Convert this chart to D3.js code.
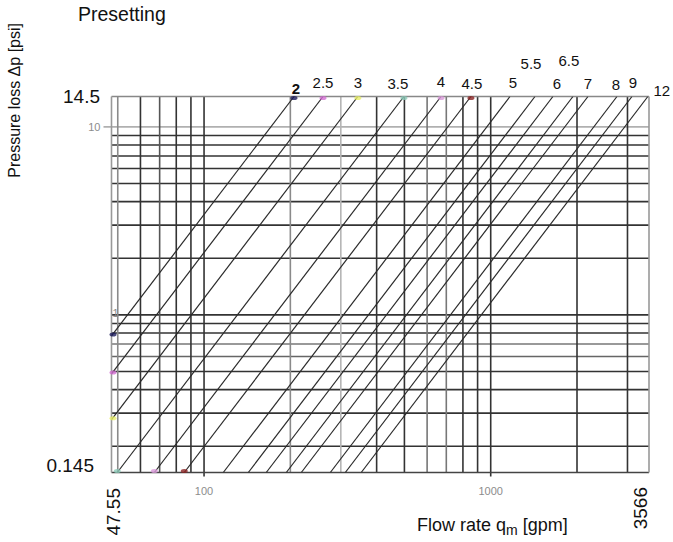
<!DOCTYPE html>
<html>
<head>
<meta charset="utf-8">
<script src="https://cdn.jsdelivr.net/npm/d3@7"></script>
<style>
  body { margin: 0; background: #fff; }
  svg { display: block; font-family: Arial, 'Liberation Sans', sans-serif; }
  .grid { fill: none; stroke-width: 1.6; }
  .curve { stroke: #2a2a2a; stroke-width: 1.2; fill: none; }
</style>
</head>
<body>
<div id="chart"></div>
<script>
// presetting curves, flow (gpm) where each curve meets 14.5 psi
const presettings = ['2', '2.5', '3', '3.5', '4', '4.5', '5', '5.5', '6', '6.5', '7', '8', '9', '12']
const flowAtMax = [206, 260, 344, 498, 671, 853, 1167, 1427, 1648, 1936, 2184, 2757, 3110, 3534]

const flowRange = [47.55, 3566]
const lossRange = [0.145, 14.5]

// grid of the original log paper
const flowGrid = [50, 60, 70, 80, 90, 100, 200, 300, 400, 500, 600, 700, 800, 900, 1000, 2000, 3000]
const flowGridTone = ['#8a8a8a', '#333', '#555', '#333', '#333', '#333', '#8a8a8a', '#b5b5b5', '#333',
  '#333', '#777', '#777', '#333', '#333', '#333', '#333', '#333']
const lossGrid = [0.2, 0.3, 0.4, 0.5, 0.6, 0.7, 0.8, 0.9, 1, 2, 3, 4, 5, 6, 7, 8, 9, 10]
const lossGridTone = ['#333', '#333', '#333', '#333', '#666', '#777', '#333', '#333', '#333',
  '#333', '#333', '#333', '#333', '#333', '#333', '#333', '#333', '#b0b0b0']

// colour blots left at the curve ends in the scan
const endColors = ['#1c1c5c', '#d36fd3', '#e9ef6a', '#8cc9b8', '#d99ad9', '#8b2424']

const W = 673
const H = 542

let svg = d3.select('#chart').append('svg')
  .attr('width', W)
  .attr('height', H)

let x = d3.scaleLog().domain(flowRange).range([111.5, 649])
let y = d3.scaleLog().domain(lossRange).range([472.5, 96.5])

svg.append('clipPath').attr('id', 'plot')
  .append('rect')
  .attr('x', x.range()[0]).attr('y', y.range()[1])
  .attr('width', x.range()[1] - x.range()[0])
  .attr('height', y.range()[0] - y.range()[1])

let g = svg.append('g')

// horizontal grid
g.selectAll('.hgrid')
  .data(lossGrid)
  .enter()
  .append('line')
  .attr('class', 'grid hgrid')
  .attr('x1', (d) => d === 10 ? x.range()[0] - 8 : x.range()[0])
  .attr('x2', x.range()[1])
  .attr('y1', (d) => y(d))
  .attr('y2', (d) => y(d))
  .attr('stroke', (d, i) => lossGridTone[i])

// vertical grid
g.selectAll('.vgrid')
  .data(flowGrid)
  .enter()
  .append('line')
  .attr('class', 'grid vgrid')
  .attr('x1', (d) => x(d))
  .attr('x2', (d) => x(d))
  .attr('y1', y.range()[1])
  .attr('y2', (d) => d === 100 || d === 1000 ? y.range()[0] + 4 : y.range()[0])
  .attr('stroke', (d, i) => flowGridTone[i])

// frame
g.append('line').attr('class', 'grid')
  .attr('x1', x.range()[0]).attr('x2', x.range()[1])
  .attr('y1', y.range()[1]).attr('y2', y.range()[1]).attr('stroke', '#888')
g.append('line').attr('class', 'grid')
  .attr('x1', x.range()[0]).attr('x2', x.range()[1])
  .attr('y1', y.range()[0]).attr('y2', y.range()[0]).attr('stroke', '#444')
g.append('line').attr('class', 'grid')
  .attr('x1', x.range()[0]).attr('x2', x.range()[0])
  .attr('y1', y.range()[1]).attr('y2', y.range()[0]).attr('stroke', '#999')
g.append('line').attr('class', 'grid')
  .attr('x1', x.range()[1]).attr('x2', x.range()[1])
  .attr('y1', y.range()[1]).attr('y2', y.range()[0]).attr('stroke', '#999')

// curves: dp ~ q^2, one decade of flow per two decades of loss
let curves = presettings.map((p, i) => {
  let q = flowAtMax[i]
  let top = [q, lossRange[1]]
  let low = q / 10 >= flowRange[0]
    ? [q / 10, lossRange[0]]
    : [flowRange[0], lossRange[1] * Math.pow(flowRange[0] / q, 2)]
  return {p: p, top: top, low: low}
})

g.append('g')
  .attr('clip-path', 'url(#plot)')
  .selectAll('.curve')
  .data(curves)
  .enter()
  .append('line')
  .attr('class', 'curve')
  .attr('x1', (d) => x(d.top[0]))
  .attr('y1', (d) => y(d.top[1]))
  .attr('x2', (d) => x(d.low[0]))
  .attr('y2', (d) => y(d.low[1]))

// coloured end marks
let marks = []
endColors.forEach((c, i) => {
  marks.push({c: c, pt: curves[i].top})
  marks.push({c: c, pt: curves[i].low})
})
g.selectAll('.blot')
  .data(marks)
  .enter()
  .append('ellipse')
  .attr('class', 'blot')
  .attr('cx', (d) => x(d.pt[0]) + (d.pt[0] === flowRange[0] ? 1.5 : 0))
  .attr('cy', (d) => y(d.pt[1]) + (d.pt[1] === lossRange[1] ? 1.5 : -1.5))
  .attr('rx', 3.5)
  .attr('ry', 2)
  .attr('fill', (d) => d.c)
  .attr('opacity', 0.8)

// presetting labels
const labelShift = {
  '2': [2, -8], '2.5': [0, -14], '3': [0, -14], '3.5': [-6, -13], '4': [0, -15], '4.5': [1, -13],
  '5': [3, -14], '5.5': [-4, -33], '6': [4, -13], '6.5': [-4, -36], '7': [0, -13], '8': [-1, -12],
  '9': [1, -14], '12': [14, -6]
}
g.selectAll('.plabel')
  .data(curves)
  .enter()
  .append('text')
  .attr('class', 'plabel')
  .attr('x', (d) => x(d.top[0]) + labelShift[d.p][0])
  .attr('y', (d) => y(d.top[1]) + labelShift[d.p][1] + 5)
  .attr('text-anchor', 'middle')
  .attr('font-size', 15)
  .attr('font-weight', (d) => d.p === '2' ? 'bold' : 'normal')
  .attr('fill', '#111')
  .text((d) => d.p)

// faint labels of the scanned paper
let faint = [
  {t: '10', x: x.range()[0] - 11, y: y(10) + 4, a: 'end'},
  {t: '1', x: x.range()[0] + 4, y: y(1) + 2, a: 'middle'},
  {t: '100', x: x(100), y: y.range()[0] + 22, a: 'middle'},
  {t: '1000', x: x(1000), y: y.range()[0] + 22, a: 'middle'}
]
svg.selectAll('.faint')
  .data(faint)
  .enter()
  .append('text')
  .attr('class', 'faint')
  .attr('x', (d) => d.x)
  .attr('y', (d) => d.y)
  .attr('text-anchor', (d) => d.a)
  .attr('font-size', 11)
  .attr('fill', '#8c8c8c')
  .text((d) => d.t)

// range labels
svg.append('text')
  .attr('x', 100).attr('y', y(lossRange[1]) + 6)
  .attr('text-anchor', 'end').attr('font-size', 19).attr('fill', '#111')
  .text('14.5')
svg.append('text')
  .attr('x', 94).attr('y', y(lossRange[0]) - 1)
  .attr('text-anchor', 'end').attr('font-size', 19).attr('fill', '#111')
  .text('0.145')
svg.append('text')
  .attr('transform', `translate(${x(flowRange[0]) + 8},488) rotate(-90)`)
  .attr('text-anchor', 'end').attr('font-size', 19).attr('fill', '#111')
  .text('47.55')
svg.append('text')
  .attr('transform', `translate(${x(flowRange[1]) - 2},487) rotate(-90)`)
  .attr('text-anchor', 'end').attr('font-size', 19).attr('fill', '#111')
  .text('3566')

// titles
svg.append('text')
  .attr('x', 78).attr('y', 21)
  .attr('font-size', 19.5).attr('fill', '#111')
  .text('Presetting')

svg.append('text')
  .attr('transform', 'translate(20,23) rotate(-90)')
  .attr('text-anchor', 'end').attr('font-size', 16).attr('fill', '#111')
  .text('Pressure loss \u0394p [psi]')

let xt = svg.append('text')
  .attr('x', 417).attr('y', 531)
  .attr('font-size', 18).attr('fill', '#111')
xt.append('tspan').text('Flow rate q')
xt.append('tspan').attr('font-size', 14).attr('dy', 4).text('m')
xt.append('tspan').attr('dy', -4).text(' [gpm]')
</script>
</body>
</html>
